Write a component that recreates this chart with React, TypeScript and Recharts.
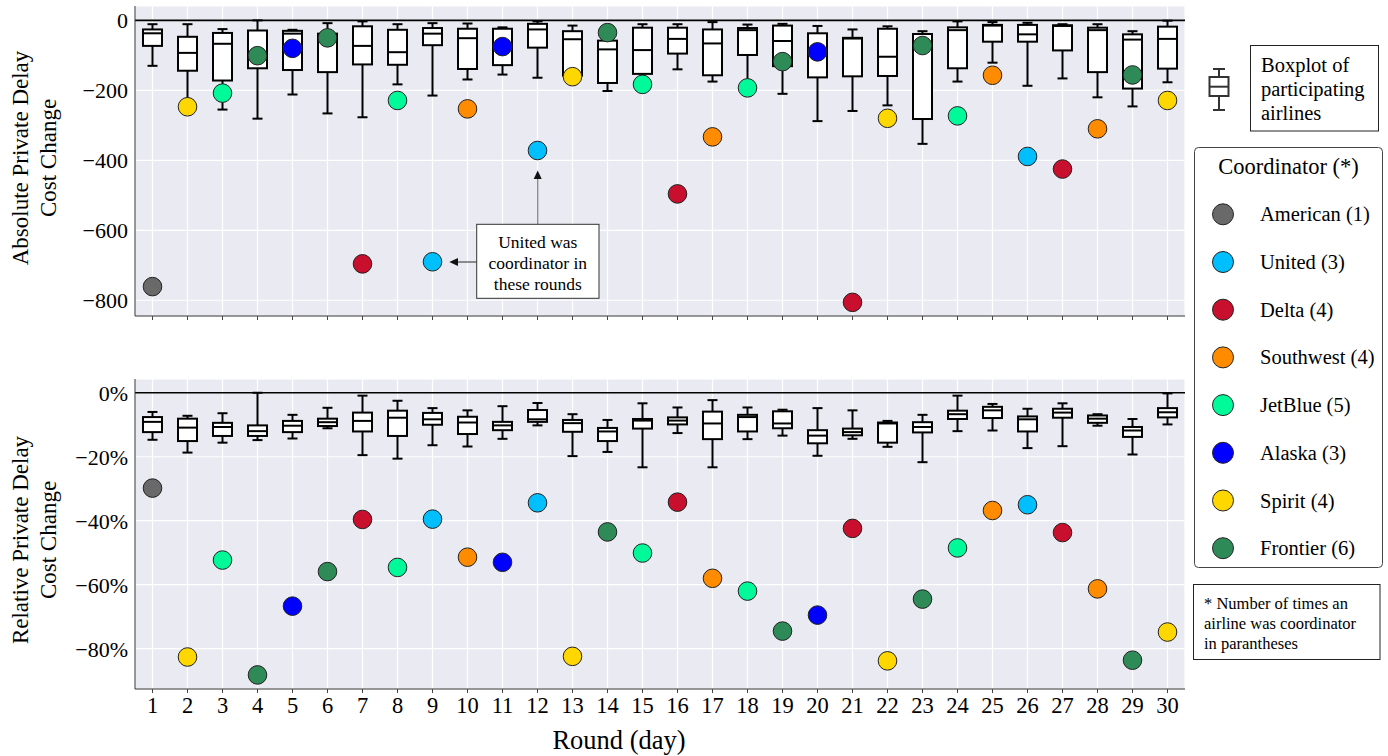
import React from 'react';
import { ComposedChart, Bar, Scatter, XAxis, YAxis, CartesianGrid, ReferenceLine } from 'recharts';

const FONT = '"Liberation Serif", "Times New Roman", serif';

// rounds (days) on the x axis
const rounds = [1, 2, 3, 4, 5, 6, 7, 8, 9, 10, 11, 12, 13, 14, 15, 16, 17, 18, 19, 20, 21, 22, 23, 24, 25, 26, 27, 28, 29, 30];

// coordinating airline for each round
const coordinators = [
  'American', 'Spirit', 'JetBlue', 'Frontier', 'Alaska', 'Frontier', 'Delta', 'JetBlue', 'United', 'Southwest',
  'Alaska', 'United', 'Spirit', 'Frontier', 'JetBlue', 'Delta', 'Southwest', 'JetBlue', 'Frontier', 'Alaska',
  'Delta', 'Spirit', 'Frontier', 'JetBlue', 'Southwest', 'United', 'Delta', 'Southwest', 'Frontier', 'Spirit',
];

const airlines = ['American', 'United', 'Delta', 'Southwest', 'JetBlue', 'Alaska', 'Spirit', 'Frontier'];

const COLORS: Record<string, string> = {
  American: '#696969',
  United: '#00bfff',
  Delta: '#c8102e',
  Southwest: '#ff8c00',
  JetBlue: '#00fa9a',
  Alaska: '#0000ff',
  Spirit: '#ffd700',
  Frontier: '#2e8b57',
};

// absolute private delay cost change: boxplot of participating airlines
const absMax = [-11, -11, -25, 0, -27, -8, -3, -11, -8, -9, -20, -3, -15, -15, -11, -11, -5, -12, -10, -16, -26, -17, -31, -3, -5, -7, -11, -11, -31, -1];
const absQ3 = [-26, -47, -36, -29, -30, -38, -17, -27, -22, -24, -24, -10, -31, -58, -21, -21, -26, -22, -15, -37, -50, -24, -39, -20, -13, -13, -14, -21, -40, -18];
const absMed = [-37, -93, -67, -110, -38, -55, -73, -91, -38, -51, -72, -26, -54, -83, -85, -53, -66, -28, -59, -88, -52, -104, -75, -28, -15, -40, -16, -28, -55, -53];
const absQ1 = [-73, -144, -172, -137, -142, -148, -126, -127, -71, -139, -128, -78, -158, -179, -153, -95, -157, -99, -131, -163, -160, -159, -282, -137, -61, -61, -86, -148, -195, -138];
const absMin = [-130, -230, -255, -281, -212, -266, -277, -183, -215, -169, -155, -164, -165, -202, -175, -140, -175, -185, -210, -288, -259, -243, -353, -175, -121, -187, -166, -220, -246, -177];
// coordinator's own change
const absCoord = [-761, -247, -208, -101, -80, -50, -696, -229, -690, -253, -75, -372, -161, -35, -183, -496, -333, -193, -118, -90, -806, -280, -72, -273, -157, -389, -425, -310, -156, -229];

// relative private delay cost change (%)
const relMax = [-6.0, -7.2, -6.4, 0, -6.9, -4.7, -0.9, -2.5, -4.8, -5.5, -4.2, -3.2, -6.7, -8.5, -3.3, -4.6, -2.3, -4.6, -5.3, -4.8, -5.5, -8.8, -6.9, -0.9, -3.5, -5.0, -3.3, -6.7, -8.2, -0.2];
const relQ3 = [-7.6, -8.1, -9.4, -10.2, -8.8, -8.1, -6.2, -5.6, -6.3, -7.5, -9.1, -5.4, -8.5, -11.0, -8.2, -7.7, -5.9, -6.9, -5.8, -11.7, -11.2, -9.3, -9.2, -5.6, -4.4, -7.4, -5.0, -7.1, -10.7, -4.8];
const relMed = [-9.1, -10.9, -10.7, -12.0, -10.3, -9.2, -8.8, -7.8, -8.3, -9.3, -10.2, -8.3, -9.5, -12.1, -8.7, -8.7, -9.6, -7.6, -9.6, -13.4, -12.3, -9.6, -10.7, -6.7, -5.5, -8.3, -6.2, -8.1, -11.8, -6.1];
const relQ1 = [-12.3, -15.1, -13.5, -13.5, -12.3, -10.4, -12.1, -13.5, -10.0, -12.9, -11.7, -9.1, -12.2, -15.1, -11.2, -9.9, -14.5, -12.1, -11.1, -15.8, -13.3, -15.6, -12.4, -8.2, -7.9, -12.1, -7.8, -9.4, -13.8, -7.7];
const relMin = [-14.7, -18.7, -15.6, -14.8, -14.3, -11.1, -19.5, -20.6, -16.4, -16.8, -14.4, -10.2, -19.8, -18.5, -23.3, -12.6, -23.3, -14.5, -13.4, -19.7, -14.4, -16.9, -21.7, -12.0, -11.8, -17.3, -16.7, -10.3, -19.3, -9.9];
const relCoord = [-29.8, -82.6, -52.3, -88.2, -66.7, -55.9, -39.6, -54.6, -39.5, -51.4, -53.0, -34.4, -82.4, -43.5, -50.1, -34.2, -58.0, -62.0, -74.5, -69.5, -42.4, -83.8, -64.5, -48.5, -36.8, -35.0, -43.7, -61.3, -83.6, -74.8];

const absTicks = [0, -200, -400, -600, -800];
const relTicks = [0, -20, -40, -60, -80];

const buildRows = (mn: number[], q1: number[], med: number[], q3: number[], mx: number[], pt: number[]) =>
  rounds.map((r, i) => ({ round: r, min: mn[i], q1: q1[i], med: med[i], q3: q3[i], max: mx[i], coord: pt[i], who: coordinators[i] }));

const absRows = buildRows(absMin, absQ1, absMed, absQ3, absMax, absCoord);
const relRows = buildRows(relMin, relQ1, relMed, relQ3, relMax, relCoord);

const minus = (v: number) => (v < 0 ? '\u2212' + Math.abs(v) : String(v));

// box drawn inside the whisker range bar; positions interpolated from the bar's own extent
const BoxShape = (props: any) => {
  const { x, y, width, height, payload } = props;
  const top = Math.min(y, y + height);
  const bottom = Math.max(y, y + height);
  const hi = payload.max;
  const lo = payload.min;
  const toY = (v: number) => (hi === lo ? top : top + ((hi - v) / (hi - lo)) * (bottom - top));
  const cx = x + width / 2;
  const cap = 5;
  return (
    <g stroke="#000" strokeWidth={2} fill="none">
      <line x1={cx} x2={cx} y1={toY(hi)} y2={toY(payload.q3)} />
      <line x1={cx} x2={cx} y1={toY(payload.q1)} y2={toY(lo)} />
      <line x1={cx - cap} x2={cx + cap} y1={toY(hi)} y2={toY(hi)} />
      <line x1={cx - cap} x2={cx + cap} y1={toY(lo)} y2={toY(lo)} />
      <rect x={x} y={toY(payload.q3)} width={width} height={toY(payload.q1) - toY(payload.q3)} fill="#fff" />
      <line x1={x} x2={x + width} y1={toY(payload.med)} y2={toY(payload.med)} />
    </g>
  );
};

const CoordDot = (props: any) => (
  <circle cx={props.cx} cy={props.cy} r={9.3} fill={COLORS[props.payload.who]} stroke="#222" strokeWidth={1} />
);

const tickStyle = { fill: '#000', fontSize: 22, fontFamily: FONT };

const Panel = ({ rows, domain, ticks, fmt, showLabels, height, marginTop, xHeight }: any) => (
  <ComposedChart width={1190} height={height} data={rows} margin={{ top: marginTop, right: 5, bottom: 0, left: 0 }}>
    <CartesianGrid fill="#eaeaf2" stroke="#ffffff" strokeWidth={1.2} />
    <XAxis
      dataKey="round"
      interval={0}
      height={xHeight}
      tickSize={4}
      tickMargin={4}
      tickLine={{ stroke: '#444' }}
      axisLine={{ stroke: '#333' }}
      tick={{ ...tickStyle, fontSize: 22.5 }}
      tickFormatter={showLabels ? undefined : () => ''}
    />
    <YAxis
      type="number"
      domain={domain}
      ticks={ticks}
      allowDataOverflow
      width={135}
      tickSize={0}
      tickMargin={7}
      axisLine={{ stroke: '#333' }}
      tick={tickStyle}
      tickFormatter={fmt}
    />
    <ReferenceLine y={0} stroke="#000" strokeWidth={1.6} />
    <Bar dataKey={(d: any) => [d.min, d.max]} barSize={19} shape={BoxShape} isAnimationActive={false} />
    <Scatter dataKey="coord" shape={CoordDot} isAnimationActive={false} />
  </ComposedChart>
);

const counts = airlines.map((a) => coordinators.filter((c) => c === a).length);

const Overlay = () => (
  <svg width={1388} height={756} style={{ position: 'absolute', left: 0, top: 0, pointerEvents: 'none' }} fontFamily={FONT}>
    {/* y axis titles */}
    <g fontSize={23} textAnchor="middle" dominantBaseline="central" fill="#000">
      <text transform="translate(20,158) rotate(-90)">Absolute Private Delay</text>
      <text transform="translate(48,158) rotate(-90)">Cost Change</text>
      <text transform="translate(20,540) rotate(-90)">Relative Private Delay</text>
      <text transform="translate(48,540) rotate(-90)">Cost Change</text>
    </g>
    <text x={619} y={740} fontSize={26.5} textAnchor="middle" dominantBaseline="central">Round (day)</text>

    {/* annotation */}
    <line x1={537.7} y1={224} x2={537.7} y2={178} stroke="#888" strokeWidth={1.3} />
    <path d="M537.7,170.5 L533.7,179 L541.7,179 Z" fill="#111" />
    <line x1={476.7} y1={262} x2={457} y2={262} stroke="#555" strokeWidth={1.3} />
    <path d="M449.3,262 L458,258 L458,266 Z" fill="#111" />
    <rect x={476.7} y={224.3} width={122.3} height={74} fill="#fff" stroke="#333" strokeWidth={1} />
    <g fontSize={17.5} textAnchor="middle" dominantBaseline="central">
      <text x={537.8} y={241.5}>United was</text>
      <text x={537.8} y={262.5}>coordinator in</text>
      <text x={537.8} y={283.5}>these rounds</text>
    </g>

    {/* boxplot key */}
    <g stroke="#333" strokeWidth={2} fill="none">
      <line x1={1219} x2={1219} y1={69} y2={77} />
      <line x1={1219} x2={1219} y1={96} y2={110} />
      <line x1={1213} x2={1225} y1={69} y2={69} />
      <line x1={1213} x2={1225} y1={110} y2={110} />
      <rect x={1209.5} y={77} width={19} height={19} fill="#fff" />
      <line x1={1209.5} x2={1228.5} y1={86.7} y2={86.7} />
    </g>
    <rect x={1250.5} y={45.5} width={128} height={85.5} fill="#fff" stroke="#222" strokeWidth={1} />
    <g fontSize={20.5} dominantBaseline="central">
      <text x={1261} y={65}>Boxplot of</text>
      <text x={1261} y={89}>participating</text>
      <text x={1261} y={113}>airlines</text>
    </g>

    {/* coordinator legend */}
    <rect x={1194.5} y={147.5} width={188} height={420} rx={4} fill="#fff" stroke="#444" strokeWidth={1} />
    <text x={1288.5} y={166.7} fontSize={22.5} textAnchor="middle" dominantBaseline="central">Coordinator (*)</text>
    {airlines.map((a, i) => (
      <g key={a}>
        <circle cx={1223} cy={214.3 + i * 47.7} r={10.5} fill={COLORS[a]} stroke="#222" strokeWidth={1} />
        <text x={1260} y={214.3 + i * 47.7} fontSize={20.5} dominantBaseline="central">{`${a} (${counts[i]})`}</text>
      </g>
    ))}

    {/* footnote */}
    <rect x={1193.5} y={584.5} width={186.5} height={75} fill="#fff" stroke="#222" strokeWidth={1} />
    <g fontSize={16.5} dominantBaseline="central">
      <text x={1204} y={603.5}>* Number of times an</text>
      <text x={1204} y={623.5}>airline was coordinator</text>
      <text x={1204} y={643.5}>in parantheses</text>
    </g>
  </svg>
);

export default function App() {
  return (
    <div style={{ position: 'absolute', left: 0, top: 0, width: 1388, height: 756, background: '#fff', fontFamily: FONT }}>
      <div style={{ position: 'absolute', left: 0, top: 0 }}>
        <Panel rows={absRows} domain={[-845, 41]} ticks={absTicks} fmt={minus} showLabels={false} height={330} marginTop={6} xHeight={14} />
      </div>
      <div style={{ position: 'absolute', left: 0, top: 370 }}>
        <Panel rows={relRows} domain={[-92.6, 4.3]} ticks={relTicks} fmt={(v: number) => minus(v) + '%'} showLabels height={360} marginTop={9} xHeight={41} />
      </div>
      <Overlay />
    </div>
  );
}
